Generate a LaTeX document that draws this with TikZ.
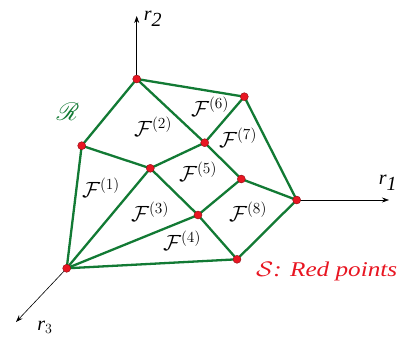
\RequirePackage{fix-cm}
\documentclass[tikz,border=0pt]{standalone}
\usepackage{graphicx}
\usepackage{fontspec}
\setmainfont{Liberation Serif}
\usepackage{mathrsfs}
\usetikzlibrary{arrows.meta}
\definecolor{egreen}{RGB}{18,122,52}
\definecolor{ered}{RGB}{232,22,34}
\tikzset{
  edge/.style={egreen, line width=2.3pt},
  axis/.style={black, line width=0.6pt, -{Stealth[length=7pt,width=5pt]}},
  pt/.style={circle, fill=ered, draw=ered!60!black, line width=0.4pt, inner sep=0pt, minimum size=8pt},
  flab/.style={font=\fontsize{22}{22}\selectfont, inner sep=0pt},
  alab/.style={font=\fontsize{20}{20}\selectfont, inner sep=0pt}
}
\begin{document}
\begin{tikzpicture}[x=1pt,y=-1pt]
\useasboundingbox (0,0) rectangle (403,337);
% points
\coordinate (A) at (136.7,79);
\coordinate (B) at (244.3,96.7);
\coordinate (C) at (81.7,145.7);
\coordinate (D) at (204.7,142.7);
\coordinate (E) at (150.3,168.3);
\coordinate (F) at (241.3,179);
\coordinate (G) at (296.7,200);
\coordinate (H) at (198,215);
\coordinate (I) at (237,259.3);
\coordinate (J) at (66.7,268.3);
\coordinate (X2) at (136.7,16);
\coordinate (X1) at (389,200);
\coordinate (X3) at (16,322);
% axes
\draw[axis] (A) -- (X2);
\draw[axis] (G) -- (X1);
\draw[axis] (J) -- (X3);
\node[alab] (l2) at (153,19) {$\textit{r}_{\textit{2}}$};
\node[alab] (l1) at (388,183) {$\textit{r}_{\textit{1}}$};
\node[alab] (l3) at (45,327) {$\textit{r}_{3}$};
% edges
\draw[edge] (A) -- (B);
\draw[edge] (A) -- (C);
\draw[edge] (A) -- (D);
\draw[edge] (B) -- (D);
\draw[edge] (B) -- (G);
\draw[edge] (C) -- (E);
\draw[edge] (C) -- (J);
\draw[edge] (E) -- (D);
\draw[edge] (D) -- (F);
\draw[edge] (F) -- (G);
\draw[edge] (E) -- (H);
\draw[edge] (E) -- (J);
\draw[edge] (H) -- (J);
\draw[edge] (H) -- (F);
\draw[edge] (H) -- (I);
\draw[edge] (I) -- (G);
\draw[edge] (I) -- (J);
% points
\foreach \p in {A,B,C,D,E,F,G,H,I,J} \node[pt] (n\p) at (\p) {};
% face labels
\node[flab] (f1) at (101,188) {$\mathcal{F}^{(1)}$};
\node[flab] (f2) at (153,127) {$\mathcal{F}^{(2)}$};
\node[flab] (f3) at (150,212) {$\mathcal{F}^{(3)}$};
\node[flab] (f4) at (182,241) {$\mathcal{F}^{(4)}$};
\node[flab] (f5) at (198,172) {$\mathcal{F}^{(5)}$};
\node[flab] (f6) at (210,107) {$\mathcal{F}^{(6)}$};
\node[flab] (f7) at (238,138) {$\mathcal{F}^{(7)}$};
\node[flab] (f8) at (248,212) {$\mathcal{F}^{(8)}$};
\node[text=egreen, font=\fontsize{28}{28}\selectfont, inner sep=0pt] (R) at (68,112) {$\mathscr{R}$};
\node[text=ered, font=\fontsize{21}{21}\selectfont\itshape, anchor=west, inner sep=0pt] (S) at (256,271) {\scalebox{1.2}[1]{$\mathcal{S}$: Red points}};
\end{tikzpicture}
\end{document}
